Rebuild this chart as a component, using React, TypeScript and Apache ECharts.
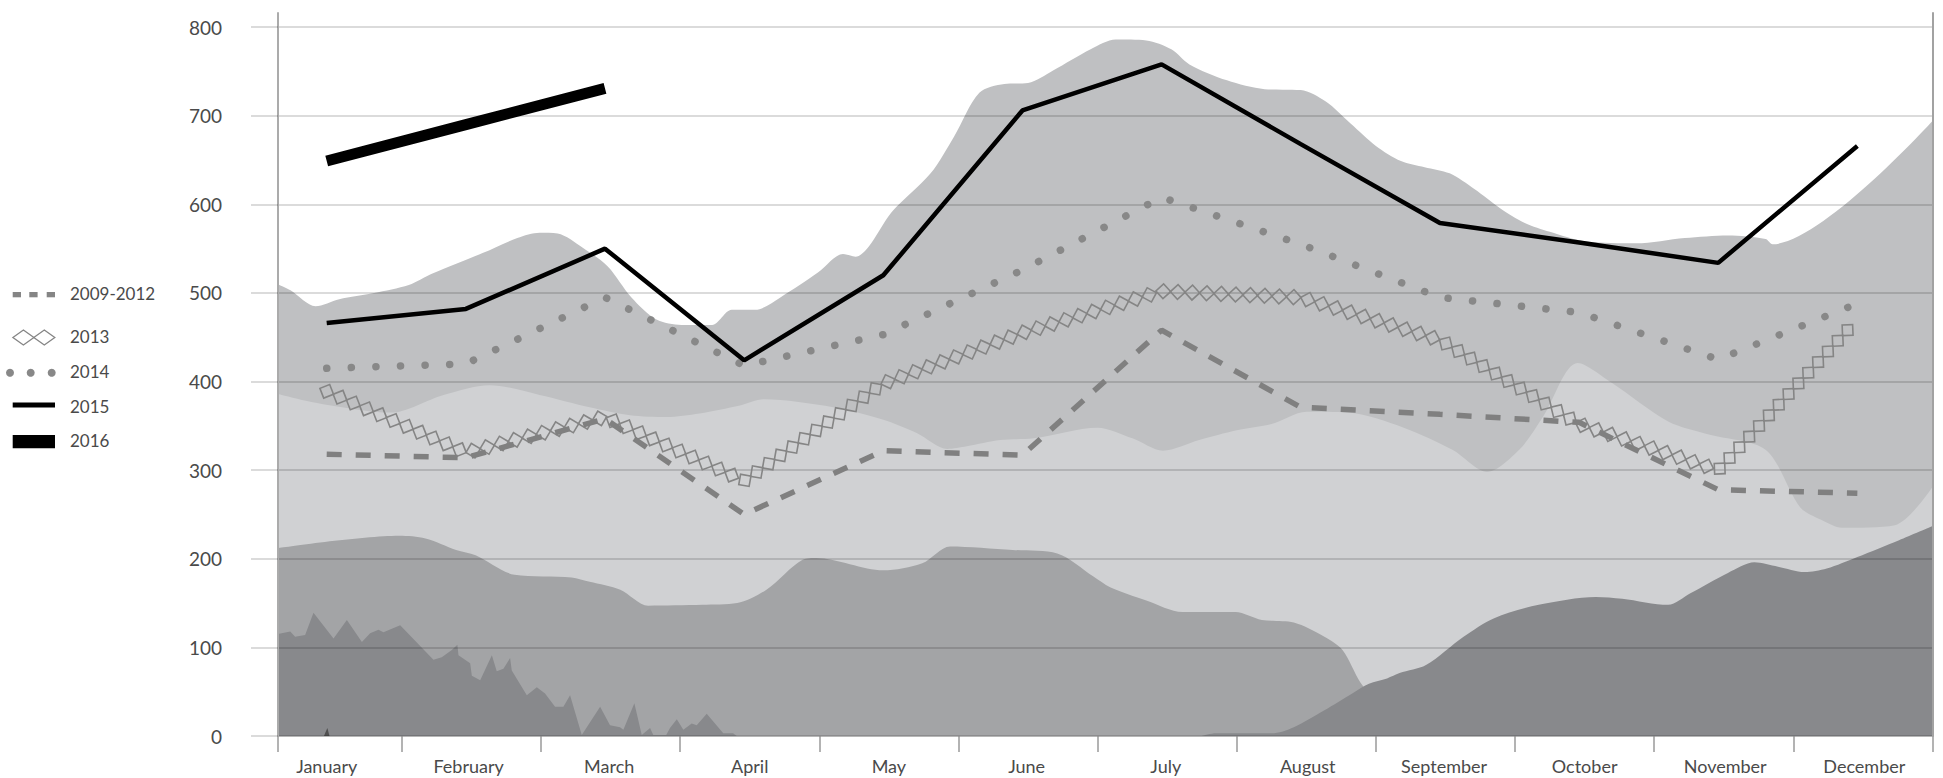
import React, { useEffect, useRef } from 'react';
import * as echarts from 'echarts';

// ---------- categories / axis ----------
const MONTHS = ['January', 'February', 'March', 'April', 'May', 'June', 'July', 'August', 'September', 'October', 'November', 'December'];
const MONTH_LABEL_POS = [0.46, 1.48, 2.49, 3.5, 4.5, 5.49, 6.49, 7.51, 8.49, 9.5, 10.51, 11.51];
const AXIS_START = 0.11; // axis begins a few days into January
const AXIS_END = 12;
const POINT_OFFSET = 0.46; // monthly values sit at mid-month
const Y_TICKS = [0, 100, 200, 300, 400, 500, 600, 700, 800];
const Y_MAX = 816;

// ---------- monthly line series ----------
const values2009_2012 = [318, 314, 358, 250, 322, 317, 458, 371, 363, 354, 278, 274];
const values2013 = [389, 320, 360, 288, 398, 455, 502, 495, 447, 352, 300, 470];
const values2014 = [415, 420, 495, 418, 453, 526, 608, 555, 495, 478, 425, 488];
const values2015 = [466, 482, 550, 424, 520, 706, 758, 668, 579, 557, 534, 666];
const values2016 = [649, 690, 731];

// ---------- background bands ([month position, value]) ----------
const bandHigh: [number, number][] = [
  [0.11, 510], [0.2, 503], [0.38, 485], [0.55, 493], [0.8, 500], [1.05, 509], [1.22, 522], [1.58, 545],
  [1.83, 562], [1.99, 568], [2.12, 567], [2.3, 551], [2.48, 530], [2.65, 495], [2.83, 470], [3.01, 464],
  [3.23, 464], [3.37, 481], [3.54, 481], [3.72, 495], [3.99, 523], [4.17, 544], [4.26, 541], [4.53, 593],
  [4.8, 635], [4.97, 677], [5.15, 726], [5.33, 736], [5.5, 737], [5.68, 751], [5.95, 775], [6.13, 786],
  [6.35, 785], [6.53, 775], [6.66, 758], [6.93, 740], [7.2, 730], [7.46, 729], [7.64, 716], [7.82, 691],
  [8.0, 666], [8.18, 649], [8.35, 642], [8.53, 635], [8.71, 617], [8.89, 596], [9.07, 579], [9.25, 569],
  [9.51, 558], [9.87, 556], [10.22, 562], [10.53, 565], [10.8, 561], [10.85, 555], [12, 694],
];
const bandNormal: [number, number][] = [
  [0.11, 386], [0.35, 377], [0.7, 368], [0.92, 365], [1.3, 385], [1.63, 396], [1.99, 385], [2.35, 371],
  [2.64, 362], [2.9, 360], [3.14, 364], [3.43, 373], [3.6, 380], [4.1, 371], [4.46, 357], [4.7, 342],
  [4.92, 324], [5.06, 327], [5.3, 334], [5.54, 336], [6.0, 348], [6.25, 336], [6.47, 322], [6.73, 334],
  [7.0, 345], [7.25, 352], [7.5, 366], [7.8, 365], [8.2, 348], [8.55, 323], [8.8, 298], [9.03, 323],
  [9.2, 360], [9.45, 421], [9.7, 398], [10.1, 355], [10.4, 340], [10.8, 323], [11.05, 258], [11.2, 244],
  [11.35, 235], [11.73, 238], [12, 281],
];
const bandLow: [number, number][] = [
  [0.11, 212], [0.98, 226], [1.17, 223], [1.39, 210], [1.53, 204], [1.81, 182], [2.22, 179], [2.35, 174],
  [2.57, 165], [2.77, 147], [3.16, 148], [3.41, 150], [3.62, 165], [3.88, 199], [3.98, 201], [4.46, 187],
  [4.74, 195], [4.94, 214], [5.39, 210], [5.71, 206], [5.97, 180], [6.09, 168], [6.35, 153], [6.61, 140],
  [6.99, 140], [7.18, 131], [7.41, 128], [7.63, 112], [7.76, 97], [7.89, 60], [8.0, 40], [8.17, 0],
];
const recordLowEarly: [number, number][] = [
  [0.11, 115], [0.198, 118], [0.233, 112], [0.305, 114], [0.365, 139], [0.509, 110], [0.605, 131], [0.713, 106],
  [0.772, 116], [0.832, 120], [0.868, 117], [0.988, 125], [1.227, 86], [1.287, 89], [1.359, 97], [1.399, 103],
  [1.407, 91], [1.491, 82], [1.503, 68], [1.563, 63], [1.647, 91], [1.682, 73], [1.73, 76], [1.778, 88],
  [1.79, 74], [1.898, 46], [1.97, 55], [2.029, 48], [2.101, 33], [2.161, 33], [2.209, 46], [2.293, 1],
  [2.425, 33], [2.496, 12], [2.568, 10], [2.592, 7], [2.671, 37], [2.724, 1], [2.784, 9], [2.807, 1],
  [2.9, 1], [2.927, 9], [2.976, 19], [3.023, 7], [3.083, 14], [3.119, 12], [3.191, 25], [3.31, 3],
  [3.38, 3], [3.407, 0],
];
const recordLowLate: [number, number][] = [
  [6.75, 0], [6.85, 3], [7.25, 3], [7.41, 10], [7.63, 29], [7.83, 48], [7.95, 59], [8.08, 65], [8.17, 71],
  [8.36, 80], [8.63, 112], [8.85, 133], [9.17, 148], [9.58, 157], [9.77, 155], [10.1, 148], [10.26, 161],
  [10.53, 184], [10.72, 196], [10.89, 191], [11.08, 185], [11.24, 189], [11.46, 202], [11.76, 221], [12, 237],
];
const recordSpike: [number, number][] = [[0.44, 0], [0.465, 9], [0.48, 0]];

const TEXT = '#4a4a4a';
const FONT = 'Lato, "Open Sans", sans-serif';

export default function App() {
  const ref = useRef<HTMLDivElement>(null);

  useEffect(() => {
    const chart = echarts.init(ref.current as HTMLDivElement, null, { renderer: 'svg' });
    const toPts = (vals: number[]) => vals.map((v, i) => [i + POINT_OFFSET, v]);
    const pts2013 = toPts(values2013);

    const area = (name: string, data: [number, number][], color: string, smooth: number | boolean) => ({
      name,
      type: 'line',
      data,
      smooth,
      symbol: 'none',
      z: 2,
      lineStyle: { width: 0, color },
      areaStyle: { color, opacity: 1 },
      silent: true,
    });

    const legendRows = [
      { label: '2009-2012', y: 295 },
      { label: '2013', y: 338 },
      { label: '2014', y: 373 },
      { label: '2015', y: 408 },
      { label: '2016', y: 442 },
    ];

    const graphic: any[] = [
      ...legendRows.map((r) => ({
        type: 'text',
        left: 70,
        top: r.y - 10,
        style: { text: r.label, font: `17px ${FONT}`, fill: TEXT },
      })),
      ...[12.7, 29.3, 46.7].map((x) => ({
        type: 'rect', shape: { x, y: 292, width: 8.3, height: 5.3 }, style: { fill: '#858585' },
      })),
      ...[23.4, 44.3].map((cx) => ({
        type: 'polygon',
        shape: { points: [[cx - 10.5, 337.5], [cx, 330], [cx + 10.5, 337.5], [cx, 345]] },
        style: { fill: 'none', stroke: '#858585', lineWidth: 1.3 },
      })),
      ...[10, 30.7, 51.7].map((cx) => ({
        type: 'circle', shape: { cx, cy: 372.7, r: 4 }, style: { fill: '#888888' },
      })),
      { type: 'rect', shape: { x: 12.7, y: 402.5, width: 42.3, height: 5 }, style: { fill: '#000' } },
      { type: 'rect', shape: { x: 12.7, y: 435, width: 42.3, height: 13.3 }, style: { fill: '#000' } },
    ];

    const option: any = {
      animation: false,
      backgroundColor: '#ffffff',
      textStyle: { fontFamily: FONT },
      grid: { left: 278, right: 10.5, top: 13, bottom: 42 },
      xAxis: {
        type: 'value',
        min: AXIS_START,
        max: AXIS_END,
        axisLine: { show: true, lineStyle: { color: '#c6c6c6', width: 1.5 } },
        axisTick: {
          show: true,
          length: 16,
          customValues: [AXIS_START, 1, 2, 3, 4, 5, 6, 7, 8, 9, 10, 11, 12],
          lineStyle: { color: '#b3b3b3', width: 2 },
        },
        axisLabel: {
          show: true,
          customValues: MONTH_LABEL_POS,
          formatter: (v: number) => MONTHS[Math.floor(v)] ?? '',
          color: TEXT,
          fontSize: 18,
          fontFamily: FONT,
          margin: 21,
        },
        splitLine: { show: false },
      },
      yAxis: [
        {
          type: 'value',
          min: 0,
          max: Y_MAX,
          z: 3,
          axisLine: { show: true, lineStyle: { color: '#ababab', width: 2 } },
          axisTick: {
            show: true,
            length: 27,
            customValues: Y_TICKS,
            lineStyle: { color: 'rgba(0,0,0,0.19)', width: 1.5 },
          },
          axisLabel: {
            show: true,
            customValues: Y_TICKS,
            color: TEXT,
            fontSize: 19,
            fontFamily: FONT,
            margin: 56,
          },
          splitLine: { show: true, lineStyle: { color: 'rgba(0,0,0,0.19)', width: 1.5 } },
        },
        {
          type: 'value',
          min: 0,
          max: Y_MAX,
          position: 'right',
          z: 3,
          axisLine: { show: true, lineStyle: { color: '#a2a2a2', width: 2 } },
          axisTick: { show: false },
          axisLabel: { show: false },
          splitLine: { show: false },
        },
      ],
      graphic,
      series: [
        area('high', bandHigh, '#bfc0c2', 0.3),
        area('normal', bandNormal, '#d0d1d3', 0.3),
        area('low', bandLow, '#a3a4a6', 0.3),
        area('recordLowEarly', recordLowEarly, '#88898c', false),
        area('recordLowLate', recordLowLate, '#88898c', 0.3),
        area('recordSpike', recordSpike, '#505050', false),
        {
          name: '2009-2012',
          type: 'line',
          data: toPts(values2009_2012),
          symbol: 'none',
          z: 4,
          lineStyle: { color: '#808080', width: 5.5, type: [15, 14] },
        },
        {
          name: '2013',
          type: 'custom',
          z: 4,
          data: pts2013,
          encode: { x: 0, y: 1 },
          renderItem: (params: any, api: any) => {
            if (params.dataIndex !== 0) return null;
            const px = pts2013.map((p) => api.coord(p));
            const children: any[] = [];
            const step = 14.5;
            const size = 10.5;
            const diamond = (x: number, y: number, ang: number) => ({
              type: 'rect',
              x,
              y,
              rotation: -ang + Math.PI / 4,
              shape: { x: -size / 2, y: -size / 2, width: size, height: size },
              style: { fill: 'none', stroke: '#858585', lineWidth: 1.6 },
            });
            let carry = 0;
            let lastAng = 0;
            for (let i = 0; i < px.length - 1; i++) {
              const [x0, y0] = px[i];
              const [x1, y1] = px[i + 1];
              const dx = x1 - x0;
              const dy = y1 - y0;
              const len = Math.hypot(dx, dy);
              const ang = Math.atan2(dy, dx);
              lastAng = ang;
              let d = carry;
              while (d <= len) {
                const t = d / len;
                children.push(diamond(x0 + dx * t, y0 + dy * t, ang));
                d += step;
              }
              carry = d - len;
            }
            if (carry > step * 0.4) {
              const [xe, ye] = px[px.length - 1];
              children.push(diamond(xe, ye, lastAng));
            }
            return { type: 'group', children };
          },
        },
        {
          name: '2014',
          type: 'line',
          data: toPts(values2014),
          symbol: 'none',
          z: 4,
          lineStyle: { color: '#888888', width: 7.5, type: [0.1, 24.5], cap: 'round' },
        },
        {
          name: '2015',
          type: 'line',
          data: toPts(values2015),
          symbol: 'none',
          z: 5,
          lineStyle: { color: '#000000', width: 4.5 },
        },
        {
          name: '2016',
          type: 'line',
          data: toPts(values2016),
          symbol: 'none',
          z: 5,
          lineStyle: { color: '#000000', width: 11, cap: 'butt' },
        },
      ],
    };

    chart.setOption(option);
    return () => chart.dispose();
  }, []);

  return <div ref={ref} style={{ position: 'fixed', left: 0, top: 0, width: 1943, height: 778 }} />;
}
